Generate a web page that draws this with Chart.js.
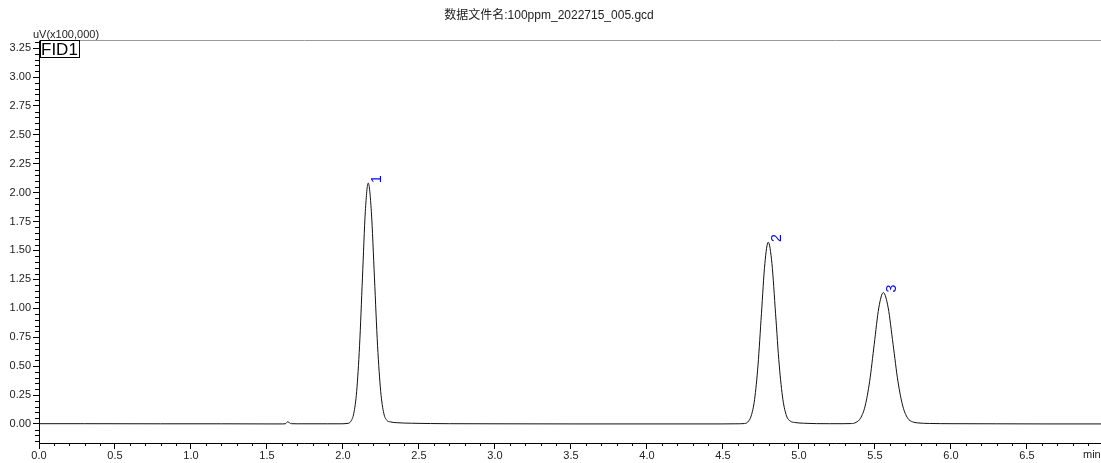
<!DOCTYPE html>
<html><head><meta charset="utf-8">
<script src="https://cdn.jsdelivr.net/npm/chart.js@4/dist/chart.umd.min.js"></script>
<style>html,body{margin:0;padding:0;background:#fff;}#wrap{width:1101px;height:463px;position:relative;}</style>
</head><body><div id="wrap"><canvas id="c" width="1101" height="463"></canvas></div>
<script>
const chartTitle = '数据文件名:100ppm_2022715_005.gcd';
const yUnitLabel = 'uV(x100,000)';
const channelLabel = 'FID1';
const xUnitLabel = 'min';
// retention time (min) and signal (x100,000 uV)
const times = [0, 0.3, 0.8, 1.2, 1.5, 1.6, 1.62, 1.63, 1.638, 1.648, 1.66, 1.7, 1.9, 1.98,
  2.033, 2.052, 2.071, 2.090, 2.109, 2.128, 2.147, 2.166, 2.1865, 2.207, 2.2275, 2.248, 2.2685, 2.289, 2.31, 2.35, 2.45,
  2.7, 3.0, 3.5, 4.0, 4.5, 4.58,
  4.6405, 4.663, 4.6855, 4.708, 4.7305, 4.753, 4.7755, 4.798, 4.822, 4.846, 4.870, 4.894, 4.918, 4.942, 4.97, 5.03,
  5.2, 5.29,
  5.345, 5.375, 5.405, 5.435, 5.465, 5.495, 5.525, 5.555, 5.587, 5.619, 5.651, 5.683, 5.715, 5.747, 5.78, 5.86,
  6.0, 6.3, 6.6, 6.99];
const signal = [0.002, 0.002, 0.001, 0.001, 0.000, 0.000, 0.001, 0.012, 0.02, 0.008, 0.002, 0.001, 0.001, 0.001,
  0.005, 0.023, 0.091, 0.282, 0.676, 1.263, 1.838, 2.083, 1.838, 1.263, 0.676, 0.282, 0.091, 0.030, 0.018, 0.011, 0.006,
  0.002, 0.001, 0.000, 0.000, 0.000, 0.001,
  0.003, 0.017, 0.069, 0.213, 0.510, 0.953, 1.387, 1.572, 1.387, 0.953, 0.510, 0.213, 0.069, 0.025, 0.013, 0.006,
  0.002, 0.002,
  0.003, 0.013, 0.050, 0.154, 0.369, 0.689, 1.003, 1.136, 1.003, 0.689, 0.369, 0.154, 0.050, 0.018, 0.009, 0.004,
  0.002, 0.001, 0.000, 0.000];
const peakLabels = ['1', '2', '3'];
const peakTimes = [2.166, 4.798, 5.555];
const peakHeights = [2.083, 1.572, 1.136];
const yTickValues = [0, 0.25, 0.5, 0.75, 1.0, 1.25, 1.5, 1.75, 2.0, 2.25, 2.5, 2.75, 3.0, 3.25];
const xTickValues = [0, 0.5, 1.0, 1.5, 2.0, 2.5, 3.0, 3.5, 4.0, 4.5, 5.0, 5.5, 6.0, 6.5];

const FONT = '"Liberation Sans", Arial, "Noto Sans CJK SC", sans-serif';

const decor = {
  id: 'decor',
  afterDraw(chart) {
    const ctx = chart.ctx, a = chart.chartArea, xs = chart.scales.x, ys = chart.scales.y;
    ctx.save();
    // top frame line
    ctx.strokeStyle = '#9a9a9a'; ctx.lineWidth = 1;
    ctx.beginPath(); ctx.moveTo(a.left, a.top + 0.5); ctx.lineTo(a.right, a.top + 0.5); ctx.stroke();
    // minor ticks
    ctx.strokeStyle = '#000';
    ctx.beginPath();
    for (let i = -3; i <= 66; i++) {
      const v = i * 0.05;
      if (v < ys.min || v > ys.max || i % 5 === 0) continue;
      const py = Math.round(ys.getPixelForValue(v)) + 0.5;
      ctx.moveTo(a.left - 4, py); ctx.lineTo(a.left, py);
    }
    for (let i = 1; i <= 70; i++) {
      const v = i * 0.1;
      if (v > xs.max || i % 5 === 0) continue;
      const px = Math.round(xs.getPixelForValue(v)) + 0.5;
      ctx.moveTo(px, a.bottom); ctx.lineTo(px, a.bottom + 3);
    }
    ctx.stroke();
    // title
    ctx.fillStyle = '#222';
    ctx.font = '12px ' + FONT;
    ctx.textAlign = 'center'; ctx.textBaseline = 'middle';
    ctx.fillText(chartTitle, 549, 16);
    // y unit
    ctx.font = '11px ' + FONT;
    ctx.textAlign = 'left';
    ctx.fillText(yUnitLabel, 33, 35);
    // x unit
    ctx.fillText(xUnitLabel, 1083, 455);
    // FID1 box
    ctx.fillStyle = '#fff';
    ctx.fillRect(40, 40, 40, 18);
    ctx.strokeStyle = '#000';
    ctx.strokeRect(40.5, 40.5, 39, 17);
    ctx.fillStyle = '#000';
    ctx.font = '17px ' + FONT;
    ctx.textAlign = 'left';
    ctx.fillText(channelLabel, 41, 50);
    // peak labels
    ctx.fillStyle = '#0000ff';
    ctx.font = '14px ' + FONT;
    for (let i = 0; i < peakLabels.length; i++) {
      const px = xs.getPixelForValue(peakTimes[i]);
      const py = ys.getPixelForValue(peakHeights[i]);
      ctx.save();
      ctx.translate(px + 9, py - 4);
      ctx.rotate(-Math.PI / 2);
      ctx.textAlign = 'center'; ctx.textBaseline = 'middle';
      ctx.fillText(peakLabels[i], 0, 0);
      ctx.restore();
    }
    ctx.restore();
  }
};

new Chart(document.getElementById('c'), {
  type: 'line',
  data: {
    datasets: [{
      data: times.map((t, i) => ({ x: t, y: signal[i] })),
      borderColor: '#111',
      borderWidth: 1,
      pointRadius: 0,
      cubicInterpolationMode: 'monotone',
      fill: false
    }]
  },
  options: {
    responsive: false,
    animation: false,
    layout: { padding: { top: 40, left: 0, right: 0, bottom: 0 } },
    plugins: { legend: { display: false }, tooltip: { enabled: false }, title: { display: false } },
    scales: {
      x: {
        type: 'linear', min: 0, max: 6.987,
        afterBuildTicks: s => { s.ticks = xTickValues.map(v => ({ value: v })); },
        afterFit: s => { s.height = 20; },
        grid: { drawOnChartArea: false, drawTicks: true, tickLength: 6, color: '#000' },
        border: { display: true, color: '#000', width: 1 },
        ticks: { color: '#222', font: { family: FONT, size: 11 }, padding: 0, maxRotation: 0, autoSkip: false,
          callback: v => v.toFixed(1) }
      },
      y: {
        type: 'linear', min: -0.165, max: 3.32,
        afterBuildTicks: s => { s.ticks = yTickValues.map(v => ({ value: v })); },
        afterFit: s => { s.width = 39; },
        grid: { drawOnChartArea: false, drawTicks: true, tickLength: 6, color: '#000' },
        border: { display: true, color: '#000', width: 1 },
        ticks: { color: '#222', font: { family: FONT, size: 11 }, padding: 2, autoSkip: false,
          callback: v => v.toFixed(2) }
      }
    }
  },
  plugins: [decor]
});
</script></body></html>
